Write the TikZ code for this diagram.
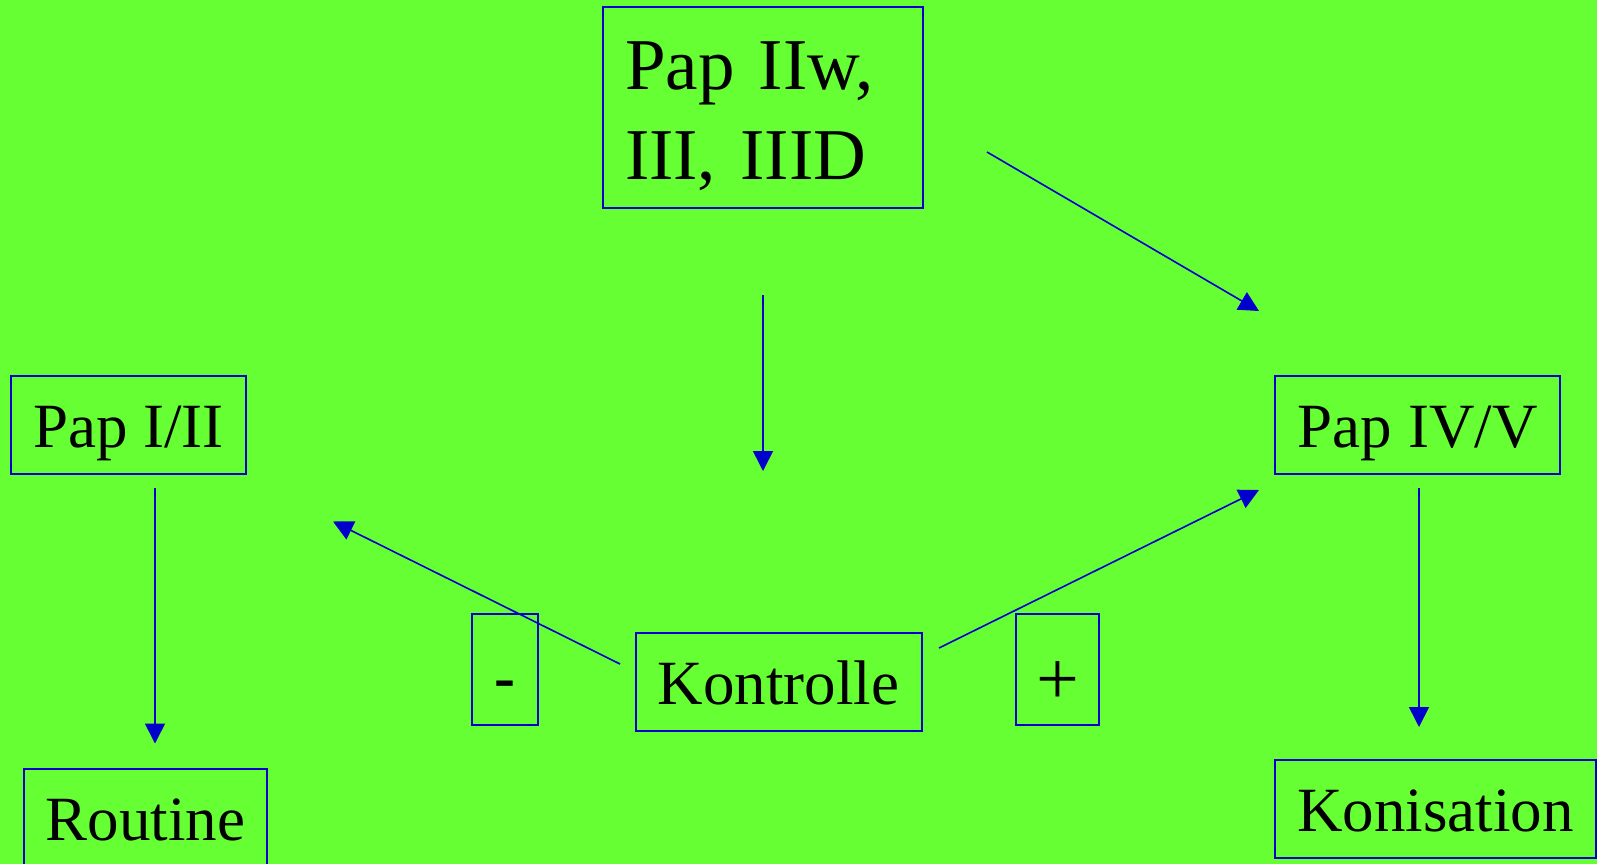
\documentclass[tikz,border=0pt]{standalone}
\usepackage{fontspec}
\setmainfont{Liberation Serif}
\usetikzlibrary{arrows.meta}
\definecolor{bg}{RGB}{102,255,51}
\definecolor{ink}{RGB}{0,0,204}

\begin{document}
\begin{tikzpicture}[x=1pt,y=-1pt,
  frame/.style={draw=ink,line width=2pt,inner sep=0pt,outer sep=0pt},
  box/.style={frame,minimum height=98pt,font=\fontsize{63}{75}\selectfont,
    text height=45pt,text depth=0pt},
  sign/.style={box,minimum height=111pt,text height=57pt},
  arr/.style={draw=ink,line width=1.6pt,-{Triangle[length=20pt,width=20pt]}}]

% canvas
\fill[bg] (0,0) rectangle (1597,864);
\useasboundingbox (0,0) rectangle (1597,864);

% boxes
\node[frame,minimum width=320pt,minimum height=201pt,align=left,
  text width=276.6pt,inner xsep=21.7pt,font=\fontsize{73}{90}\selectfont,
  text height=54.4pt,text depth=90pt] (top) at (763.3,107.8) {Pap IIw,\\III, IIID};
\node[box,minimum width=235pt] (papI) at (128.5,424.9) {Pap I/II};
\node[box,minimum width=284.7pt] (papIV) at (1417.7,424.7) {Pap IV/V};
\node[box,minimum width=286.2pt] (kontr) at (778.6,682) {Kontrolle};
\node[box,minimum width=243.6pt] (rout) at (145.5,817.7) {Routine};
\node[box,minimum width=320.2pt] (konis) at (1435.4,808.9) {Konisation};
\node[sign,minimum width=66.5pt] (minus) at (505,669.5) {\textbf{-}};
\node[sign,minimum width=82.5pt,text height=69pt,
  font=\fontsize{76}{90}\selectfont] (plus) at (1057.6,669.5) {+};

% connector end points
\coordinate (a1s) at (987,152);   \coordinate (a1e) at (1259,311);
\coordinate (a2s) at (763,295);   \coordinate (a2e) at (763,471);
\coordinate (a3s) at (620,664);   \coordinate (a3e) at (333,521.5);
\coordinate (a4s) at (939,648);   \coordinate (a4e) at (1259,490);
\coordinate (a5s) at (155,487.5); \coordinate (a5e) at (155,743.5);
\coordinate (a6s) at (1419,487.5);\coordinate (a6e) at (1419,727);

% connectors
\draw[arr] (a1s) -- (a1e);
\draw[arr] (a2s) -- (a2e);
\draw[arr] (a3s) -- (a3e);
\draw[arr] (a4s) -- (a4e);
\draw[arr] (a5s) -- (a5e);
\draw[arr] (a6s) -- (a6e);
\end{tikzpicture}
\end{document}
